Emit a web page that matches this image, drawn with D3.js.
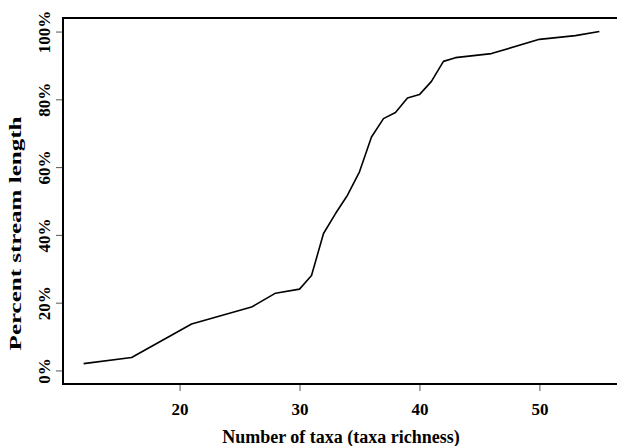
<!DOCTYPE html>
<html>
<head>
<meta charset="utf-8">
<script src="https://cdn.jsdelivr.net/npm/d3@7"></script>
<style>
  body { margin: 0; background: #fff; }
  svg { display: block; font-family: "Liberation Serif", "Times New Roman", serif; font-weight: bold; }
</style>
</head>
<body>
<svg width="617" height="446"></svg>
<script>
// taxa richness vs cumulative percent of stream length
const taxa    = [12, 16, 21, 26, 28, 30, 31, 32, 33, 34, 35, 36, 37, 38, 39, 40, 41, 42, 43, 46, 50, 53, 55];
const percent = [2, 3.8, 13.7, 18.7, 22.8, 24, 28, 40.4, 46.3, 51.7, 58.6, 68.9, 74.3, 76.1, 80.4, 81.4, 85.3, 91.2, 92.3, 93.5, 97.7, 98.8, 100];
const xTicks = [20, 30, 40, 50];
const yTicks = [0, 20, 40, 60, 80, 100];

const svg = d3.select('svg');
const m = { left: 63, right: 620, top: 18, bottom: 384 };

// R style 4% padding on each side
const xr = d3.extent(taxa), xpad = (xr[1] - xr[0]) * 0.04;
const x = d3.scaleLinear().domain([xr[0] - xpad, xr[1] + xpad]).range([m.left, m.right]);
const y = d3.scaleLinear().domain([-4, 104]).range([m.bottom, m.top]);

// x axis
const xAxis = svg.append('g')
    .attr('transform', `translate(0,${m.bottom})`)
    .call(d3.axisBottom(x).tickValues(xTicks).tickSize(7).tickFormat(d3.format('d')))
    .attr('font-family', null).attr('font-size', 17);
xAxis.select('.domain').remove();
xAxis.selectAll('line').attr('stroke', '#555');
xAxis.selectAll('text').attr('fill', '#000').attr('y', 31).attr('dy', null);

// y axis, labels parallel to the axis like R's default
const yAxis = svg.append('g')
    .attr('transform', `translate(${m.left},0)`)
    .call(d3.axisLeft(y).tickValues(yTicks).tickSize(7).tickFormat(d => d + '%'))
    .attr('font-family', null).attr('font-size', 17);
yAxis.select('.domain').remove();
yAxis.selectAll('line').attr('stroke', '#555');
yAxis.selectAll('text')
    .attr('fill', '#000')
    .attr('text-anchor', 'middle').attr('dy', null)
    .attr('transform', 'rotate(-90)')
    .attr('x', 0).attr('y', -13);

// box
svg.append('rect')
    .attr('x', m.left).attr('y', m.top)
    .attr('width', m.right - m.left).attr('height', m.bottom - m.top)
    .attr('fill', 'none').attr('stroke', '#000').attr('stroke-width', 2);

// line
const line = d3.line().x((d, i) => x(taxa[i])).y(d => y(d));
svg.append('path')
    .datum(percent)
    .attr('d', line)
    .attr('fill', 'none').attr('stroke', '#000').attr('stroke-width', 1.6)
    .attr('stroke-linejoin', 'round');

// titles
svg.append('text')
    .attr('x', 341).attr('y', 443)
    .attr('text-anchor', 'middle').attr('font-size', 18)
    .text('Number of taxa (taxa richness)');

// y title is drawn wider along its baseline in the original, so stretch it
const yTitle = svg.append('text')
    .attr('text-anchor', 'middle').attr('font-size', 17)
    .text('Percent stream length');
const stretch = 234 / yTitle.node().getComputedTextLength();
yTitle.attr('transform', `translate(21,233.5) rotate(-90) scale(${stretch},1)`);
</script>
</body>
</html>
